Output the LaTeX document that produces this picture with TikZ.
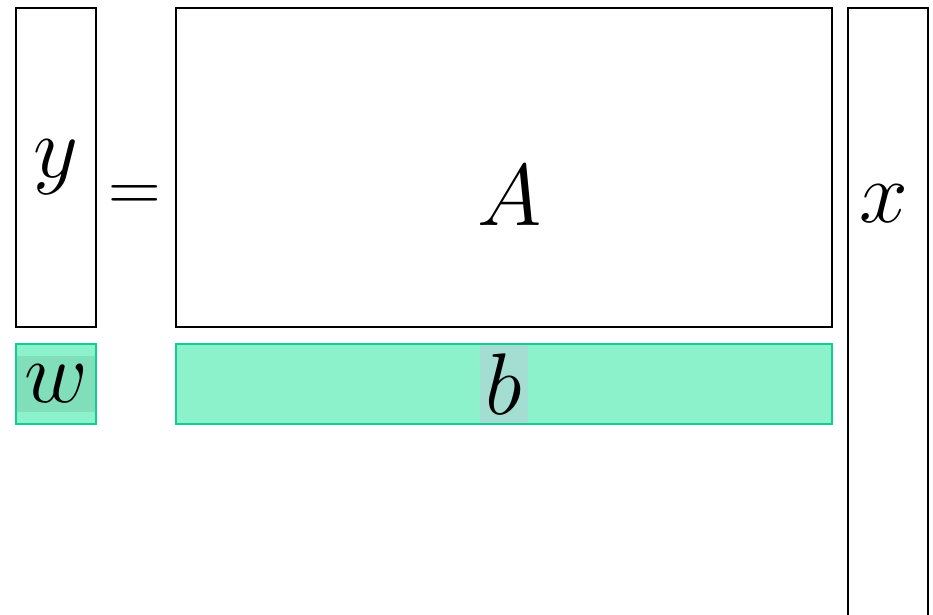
\documentclass[tikz,border=0pt]{standalone}
\usepackage{xcolor}
\usepackage{amsmath,amssymb}
\usepackage{tikz}
\usetikzlibrary{positioning}

\definecolor{rowfill}{HTML}{8CF2CB}
\definecolor{rowline}{HTML}{12CC96}
\definecolor{wtag}{HTML}{80DEBA}
\definecolor{btag}{HTML}{A4DDD1}

\begin{document}
\begin{tikzpicture}[
  x=0.01cm, y=-0.01cm,
  font=\fontsize{24}{29}\selectfont,
  block/.style={draw=black, line width=0.6pt, inner sep=0pt},
  biasrow/.style={block, draw=rowline, fill=rowfill},
  tag/.style={inner sep=0pt}
]
\useasboundingbox (0,0) rectangle (933,615);
\node[block, minimum width=8mm, minimum height=31.9mm] (ybox) at (56,167.5) {};
\node[block, minimum width=65.6mm, minimum height=31.9mm] (Abox) at (504,167.5) {};
\node[block, minimum width=8mm, minimum height=63.2mm] (xbox) at (888,324) {};
\node[biasrow, minimum width=8mm, minimum height=8mm] (wbox) at (56,384) {};
\node[biasrow, minimum width=65.6mm, minimum height=8mm] (bbox) at (504,384) {};

\node[tag] (ylab) at (ybox.center) {$y$};
\node[tag, font=\fontsize{19.5}{23}\selectfont] (eq) at (135,199) {$=$};
\node[tag] (Alab) at (510,196) {$A$};
\node[tag] (xlab) at (884,204) {$x$};
\node[tag, fill=wtag, minimum width=7.8mm, minimum height=5.5mm] (wlab) at (wbox.center) {$w$};
\node[tag, fill=btag, minimum width=4.7mm, minimum height=7.8mm] (blab) at (bbox.center) {$b$};
\end{tikzpicture}
\end{document}
